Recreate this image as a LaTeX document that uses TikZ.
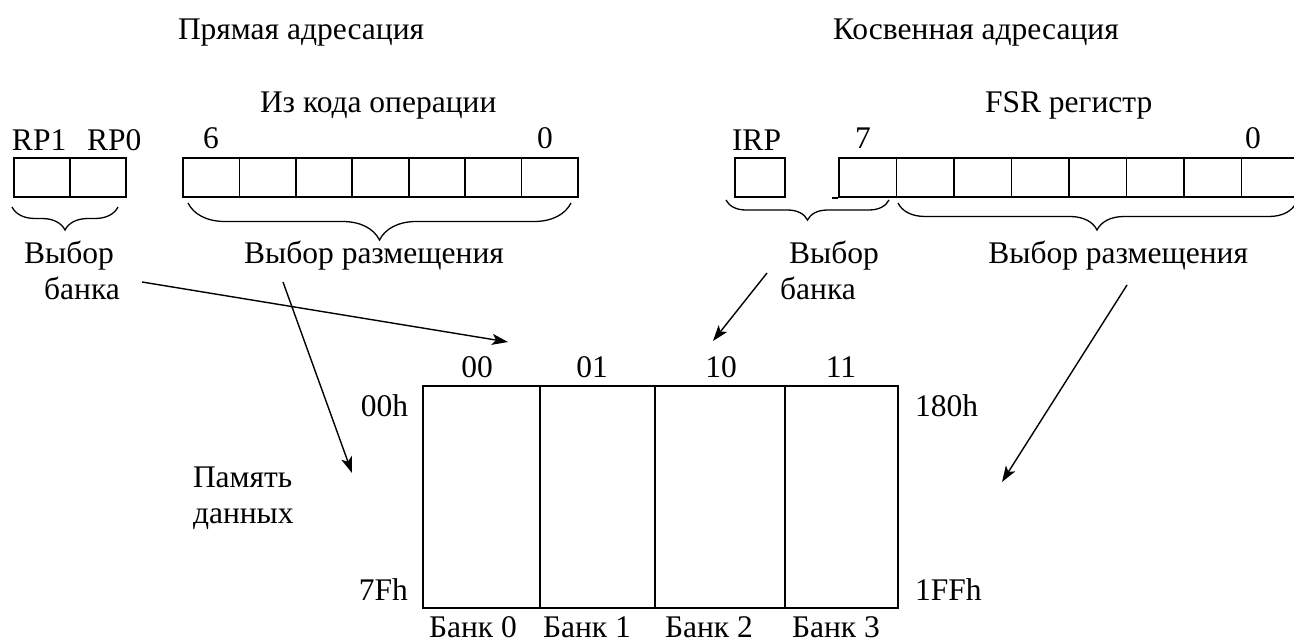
\documentclass[tikz,border=0pt]{standalone}
\usepackage{fontspec}
\setmainfont{Liberation Serif}
\usetikzlibrary{arrows.meta,decorations.pathreplacing}
\newcommand\fsz{\fontsize{31.5}{36}\selectfont}
\tikzset{
  lbl/.style={inner sep=0pt, outer sep=0pt, font=\fsz},
  cell/.style={draw, line width=1.8pt, inner sep=0pt, minimum height=39pt},
  bank/.style={draw, line width=1.8pt, inner sep=0pt, minimum height=222pt},
  brc/.style={line width=1.3pt, decorate, decoration={brace, mirror, amplitude=#1}},
  arr/.style={line width=1.4pt, -{Stealth[length=16pt, width=11pt, inset=4pt]}}
}
\begin{document}
\begin{tikzpicture}[x=1pt, y=-1pt]
\useasboundingbox (0,0) rectangle (1294,642);

% titles
\node[lbl, anchor=base west] (t1) at (178,40) {Прямая адресация};
\node[lbl, anchor=base west] (t2) at (833,40) {Косвенная адресация};
\node[lbl, anchor=base west] (t3) at (260,113) {Из кода операции};
\node[lbl, anchor=base west] (t4) at (985,113) {FSR регистр};

% bit labels
\node[lbl, anchor=base west] (rp1) at (12,150) {RP1};
\node[lbl, anchor=base west] (rp0) at (87,150) {RP0};
\node[lbl, anchor=base west] (b6) at (203,148) {6};
\node[lbl, anchor=base west] (b0a) at (537,148) {0};
\node[lbl, anchor=base west] (irp) at (732,150) {IRP};
\node[lbl, anchor=base west] (b7) at (855,148) {7};
\node[lbl, anchor=base west] (b0b) at (1245,148) {0};

% RP registers
\node[cell, minimum width=56pt] (rpa) at (42,177.5) {};
\node[cell, minimum width=56pt] (rpb) at (98,177.5) {};
% opcode register (7 bits)
\foreach \i in {0,...,6} {
  \node[cell, minimum width=56.43pt] (op\i) at ({183+56.43*(\i+0.5)},177.5) {};
}
% IRP
\node[cell, minimum width=50pt] (irpbox) at (760,177.5) {};
% FSR register (8 bits)
\foreach \i in {0,...,7} {
  \node[cell, minimum width=57.5pt] (fsr\i) at ({839+57.5*(\i+0.5)},177.5) {};
}
\draw[line width=1.8pt] (fsr0.south west) -- ++(-6,0);

% braces
\draw[brc=23pt] (12,207) -- (118,207);
\draw[brc=37pt] (188,203) -- (571,203);
\draw[brc=20pt] (726,200) -- (889,200);
\draw[brc=27pt] (898,203) -- (1296,203);

% brace labels
\node[lbl, anchor=base] (vb1) at (69,263) {Выбор};
\node[lbl, anchor=base] (bk1) at (82,299) {банка};
\node[lbl, anchor=base] (vr1) at (374,263) {Выбор размещения};
\node[lbl, anchor=base] (vb2) at (834,263) {Выбор};
\node[lbl, anchor=base] (bk2) at (818,299) {банка};
\node[lbl, anchor=base east] (vr2) at (1248,263) {Выбор размещения};

% memory
\node[bank, minimum width=117pt] (m0) at (481.5,497) {};
\node[bank, minimum width=115pt] (m1) at (597.5,497) {};
\node[bank, minimum width=130pt] (m2) at (720,497) {};
\node[bank, minimum width=113pt] (m3) at (841.5,497) {};

\node[lbl, anchor=base] (c0) at (477,377) {00};
\node[lbl, anchor=base] (c1) at (592,377) {01};
\node[lbl, anchor=base] (c2) at (721,377) {10};
\node[lbl, anchor=base] (c3) at (841,377) {11};

\node[lbl, anchor=base] (k0) at (473,637) {Банк 0};
\node[lbl, anchor=base] (k1) at (587,637) {Банк 1};
\node[lbl, anchor=base] (k2) at (709,637) {Банк 2};
\node[lbl, anchor=base] (k3) at (836,637) {Банк 3};

\node[lbl, anchor=base east] (a00) at (408,416) {00h};
\node[lbl, anchor=base east] (a7f) at (408,600) {7Fh};
\node[lbl, anchor=base west] (a180) at (915,416) {180h};
\node[lbl, anchor=base west] (a1ff) at (915,600) {1FFh};

\node[lbl, anchor=base west] (pm1) at (193,487) {Память};
\node[lbl, anchor=base west] (pm2) at (193,523) {данных};

% arrows
\coordinate (s1) at (142,282);
\coordinate (e1) at (508,342);
\coordinate (s2) at (283,282);
\coordinate (e2) at (352,473);
\coordinate (s3) at (767,273);
\coordinate (e3) at (713,341);
\coordinate (s4) at (1127,285);
\coordinate (e4) at (1002,482);
\draw[arr] (s1) -- (e1);
\draw[arr] (s2) -- (e2);
\draw[arr] (s3) -- (e3);
\draw[arr] (s4) -- (e4);
\end{tikzpicture}
\end{document}
